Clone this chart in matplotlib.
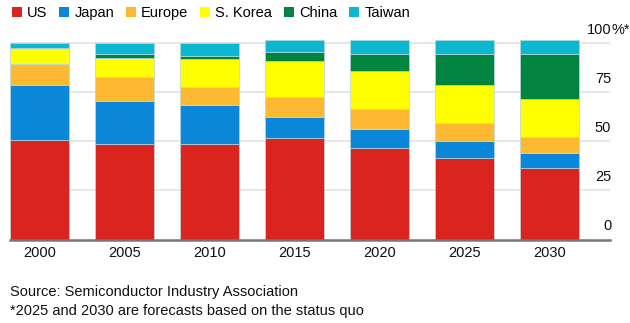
import numpy as np
import matplotlib.pyplot as plt
from matplotlib.patches import Patch

plt.rcParams['font.family'] = ['Liberation Sans', 'DejaVu Sans']

years = ['2000', '2005', '2010', '2015', '2020', '2025', '2030']
regions = ['US', 'Japan', 'Europe', 'S. Korea', 'China', 'Taiwan']

us = [50.5, 48.5, 48.5, 51.5, 46.4, 41.3, 36.2]
japan = [27.9, 21.9, 19.9, 10.7, 10.0, 9.0, 8.0]
europe = [11.0, 12.0, 8.9, 10.0, 9.7, 9.0, 8.1]
korea = [8.0, 9.9, 14.2, 18.3, 19.4, 19.1, 19.1]
china = [0.0, 1.9, 1.9, 4.9, 8.9, 16.0, 23.0]
taiwan = [2.6, 5.8, 6.6, 6.1, 7.1, 7.1, 7.1]

colors = ['#da251f', '#0a87d9', '#fdb933', '#ffff00', '#00843f', '#0bb8d0']
series = [us, japan, europe, korea, china, taiwan]

yticks = [0, 25, 50, 75, 100]
ytick_labels = ['0', '25', '50', '75', '100']

fig = plt.figure(figsize=(6.3, 3.23), dpi=100)
ax = fig.add_axes([0.0159, 0.2585, 0.952, 0.6215])

x = np.arange(len(years))
bottom = np.zeros(len(years))
for vals, c in zip(series, colors):
    vals = np.array(vals)
    ax.bar(x, vals, bottom=bottom, width=0.694, color=c,
           edgecolor='#b9d6de', linewidth=0.5, zorder=3)
    bottom += vals

for v in yticks[1:]:
    ax.axhline(v, color='#e3e3e3', linewidth=1.2, zorder=1)
for v, lab in zip(yticks, ytick_labels):
    ax.annotate(lab, xy=(1, v), xycoords=('axes fraction', 'data'),
                xytext=(1, 6.5), textcoords='offset points',
                ha='right', va='baseline', fontsize=10.5, color='#111111')
# unit marker hangs past the right edge of the top label
ax.annotate('%*', xy=(1, 100), xycoords=('axes fraction', 'data'),
            xytext=(1, 6.5), textcoords='offset points',
            ha='left', va='baseline', fontsize=10.5, color='#111111')

ax.set_xlim(-0.347, 6.71)
ax.set_ylim(0, 102)
ax.set_yticks([])
ax.set_xticks(x)
ax.set_xticklabels(years, fontsize=10.5, color='#111111')
ax.tick_params(axis='x', length=0, pad=5)
for s in ['top', 'right', 'left']:
    ax.spines[s].set_visible(False)
ax.spines['bottom'].set_color('#777777')
ax.spines['bottom'].set_linewidth(1.8)
ax.spines['bottom'].set_zorder(4)

handles = [Patch(facecolor=c, edgecolor='none') for c in colors]
fig.legend(handles, regions, loc='upper left', bbox_to_anchor=(0.0, 1.017),
           ncol=6, frameon=False, fontsize=10.5, handlelength=0.7,
           handleheight=0.7, handletextpad=0.35, columnspacing=0.8,
           borderpad=0.3)

fig.text(0.016, 0.085, 'Source: Semiconductor Industry Association',
         fontsize=10.5, color='#111111')
fig.text(0.016, 0.025, '*2025 and 2030 are forecasts based on the status quo',
         fontsize=10.5, color='#111111')

fig.savefig('out.png', dpi=100)
